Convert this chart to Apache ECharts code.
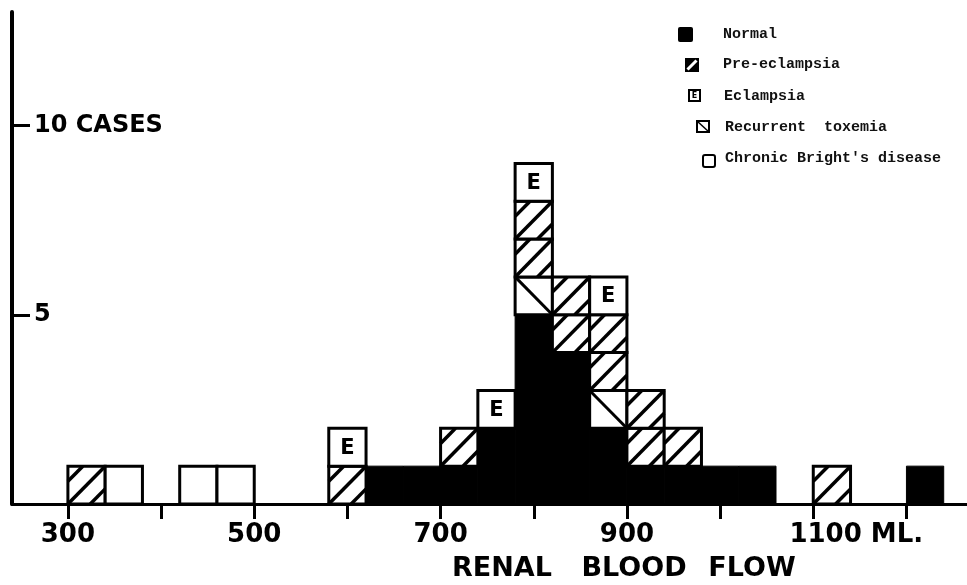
<!DOCTYPE html>
<html><head><meta charset="utf-8">
<script src="https://cdn.jsdelivr.net/npm/echarts@6/dist/echarts.min.js"></script>
<style>html,body{margin:0;padding:0;background:#fff;}#c{width:967px;height:585px;}</style>
</head><body><div id="c"></div>
<script>
// ---- data ----
const binWidth = 40; // ml per bin
const binStarts    = [300,340,420,460,580,620,660,700,740,780,820,860,900,940,980,1020,1100,1200];
const normal       = [0,  0,  0,  0,  0,  1,  1,  1,  2,  5,  4,  2,  1,  1,  1,  1,   0,   1];
const recurrent    = [0,  0,  0,  0,  0,  0,  0,  0,  0,  1,  0,  1,  0,  0,  0,  0,   0,   0];
const preEclampsia = [1,  0,  0,  0,  1,  0,  0,  1,  0,  2,  2,  2,  2,  1,  0,  0,   1,   0];
const eclampsia    = [0,  0,  0,  0,  1,  0,  0,  0,  1,  1,  0,  1,  0,  0,  0,  0,   0,   0];
const brights      = [0,  1,  1,  1,  0,  0,  0,  0,  0,  0,  0,  0,  0,  0,  0,  0,   0,   0];
const legendNames  = ['Normal','Pre-eclampsia','Eclampsia','Recurrent  toxemia',"Chronic Bright's disease"];
const xTickValues  = [300,400,500,600,700,800,900,1000,1100,1200];
const xLabelValues = [300,500,700,900,1100];
const yTickValues  = [5,10];
const xTitleWords  = ['RENAL', 'BLOOD', 'FLOW'];

// ---- build stacks (order bottom->top) ----
const stackOrder = [
  {kind:'normal', name:'Normal', values: normal},
  {kind:'recurrent', name:'Recurrent  toxemia', values: recurrent},
  {kind:'pre', name:'Pre-eclampsia', values: preEclampsia},
  {kind:'ecl', name:'Eclampsia', values: eclampsia},
  {kind:'bright', name:"Chronic Bright's disease", values: brights}
];
const bases = binStarts.map(() => 0);
const seriesData = stackOrder.map(s => {
  const d = [];
  s.values.forEach((v, i) => {
    if (v > 0) d.push([binStarts[i], bases[i], v]);
    bases[i] += v;
  });
  return d;
});

const INK = '#000';
const BORDER = 3;

function hatchLines(x, y, w, h) {
  // "/" lines in normalized box coords (u right, v up)
  const out = [];
  [0.6, 0, -0.6].forEach(c => {
    let u1, v1, u2, v2;
    if (c >= 0) { u1 = 0; v1 = c; u2 = 1 - c; v2 = 1; }
    else { u1 = -c; v1 = 0; u2 = 1; v2 = 1 + c; }
    out.push({
      type: 'line',
      shape: { x1: x + u1 * w, y1: y + h - v1 * h, x2: x + u2 * w, y2: y + h - v2 * h },
      style: { stroke: INK, lineWidth: 3.5 }
    });
  });
  return out;
}

function makeRender(kind) {
  return function (params, api) {
    const xs = api.value(0), base = api.value(1), n = api.value(2);
    const left = api.coord([xs, 0])[0];
    const right = api.coord([xs + binWidth, 0])[0];
    const w = right - left;
    const children = [];
    if (kind === 'normal') {
      const yb = api.coord([xs, base])[1], yt = api.coord([xs, base + n])[1];
      children.push({ type: 'rect', shape: { x: left, y: yt, width: w, height: yb - yt },
        style: { fill: INK, stroke: INK, lineWidth: 1 } });
    } else {
      for (let i = 0; i < n; i++) {
        const yb = api.coord([xs, base + i])[1], yt = api.coord([xs, base + i + 1])[1];
        const h = yb - yt;
        children.push({ type: 'rect', shape: { x: left, y: yt, width: w, height: h },
          style: { fill: '#fff', stroke: INK, lineWidth: BORDER } });
        if (kind === 'pre') {
          hatchLines(left, yt, w, h).forEach(l => children.push(l));
        } else if (kind === 'recurrent') {
          children.push({ type: 'line', shape: { x1: left, y1: yt, x2: left + w, y2: yb },
            style: { stroke: INK, lineWidth: 3 } });
        } else if (kind === 'ecl') {
          children.push({ type: 'text', x: left + w / 2, y: yt + h / 2 + 1,
            style: { text: 'E', fill: INK, font: 'bold 21px "DejaVu Sans"', align: 'center', verticalAlign: 'middle' } });
        }
      }
    }
    return { type: 'group', children };
  };
}

const series = stackOrder.map((s, k) => ({
  type: 'custom',
  name: s.name,
  renderItem: makeRender(s.kind),
  encode: { x: 0, y: [1, 2] },
  data: seriesData[k],
  clip: false,
  silent: true
}));

// ---- legend drawn with graphics ----
const legendFont = 'bold 15px "Liberation Mono"';
const legendRowsY = [34, 64, 96, 127, 158];
const legendTextX = [723, 723, 724, 725, 725];
const legendGraphics = [];
legendGraphics.push({ type: 'rect', shape: { x: 678, y: 27, width: 15, height: 15, r: 2 }, style: { fill: INK } });
legendGraphics.push({ type: 'rect', shape: { x: 685, y: 58, width: 14, height: 14 }, style: { fill: INK } });
legendGraphics.push({ type: 'line', shape: { x1: 687.5, y1: 69.5, x2: 696.5, y2: 60.5 }, style: { stroke: '#fff', lineWidth: 3 } });
legendGraphics.push({ type: 'rect', shape: { x: 689, y: 90, width: 11, height: 11 }, style: { fill: '#fff', stroke: INK, lineWidth: 2 } });
legendGraphics.push({ type: 'text', x: 694.5, y: 95.5, style: { text: 'E', font: 'bold 8px "DejaVu Sans"', fill: INK, align: 'center', verticalAlign: 'middle' } });
legendGraphics.push({ type: 'rect', shape: { x: 697, y: 121, width: 12, height: 11 }, style: { fill: '#fff', stroke: INK, lineWidth: 2 } });
legendGraphics.push({ type: 'line', shape: { x1: 697, y1: 121, x2: 709, y2: 132 }, style: { stroke: INK, lineWidth: 1.5 } });
legendGraphics.push({ type: 'rect', shape: { x: 703, y: 155, width: 12, height: 12, r: 2 }, style: { fill: '#fff', stroke: INK, lineWidth: 2 } });
legendNames.forEach((nm, i) => {
  legendGraphics.push({ type: 'text', x: legendTextX[i], y: legendRowsY[i],
    style: { text: nm, font: legendFont, fill: '#111', align: 'left', verticalAlign: 'middle' } });
});
// axis title, letter-spaced lettering: each word placed at its own centre
const titleCentersX = [502, 634, 752];
xTitleWords.forEach((wd, i) => {
  legendGraphics.push({ type: 'text', x: titleCentersX[i], y: 569,
    style: { text: wd, font: 'bold 27px "DejaVu Sans"', fill: INK, align: 'center', verticalAlign: 'middle' } });
});

const chart = echarts.init(document.getElementById('c'), null, { renderer: 'canvas' });
chart.setOption({
  animation: false,
  backgroundColor: '#fff',
  grid: { left: 12, right: 0, top: 12, bottom: 81, containLabel: false, outerBoundsMode: 'none' },
  xAxis: {
    type: 'value', min: 240, max: 1265,
    axisLine: { show: true, onZero: false, lineStyle: { color: INK, width: 3 } },
    axisTick: { show: true, customValues: xTickValues, length: 15, lineStyle: { color: INK, width: 3 } },
    axisLabel: {
      customValues: xLabelValues,
      formatter: v => (v === 1100 ? '{g|}1100 ML.' : String(v)),
      color: INK, fontFamily: 'DejaVu Sans', fontWeight: 'bold', fontSize: 26, margin: 18,
      rich: { g: { width: 86 } }
    },
    splitLine: { show: false }
  },
  yAxis: {
    type: 'value', min: 0, max: 13,
    axisLine: { show: true, lineStyle: { color: INK, width: 4 } },
    axisTick: { show: true, inside: true, customValues: yTickValues, length: 18, lineStyle: { color: INK, width: 3 } },
    axisLabel: {
      inside: true, customValues: yTickValues,
      formatter: v => (v === 10 ? '10 CASES' : String(v)),
      color: INK, fontFamily: 'DejaVu Sans', fontWeight: 'bold', fontSize: 24, margin: 22
    },
    splitLine: { show: false }
  },
  graphic: legendGraphics,
  series
});
</script></body></html>
